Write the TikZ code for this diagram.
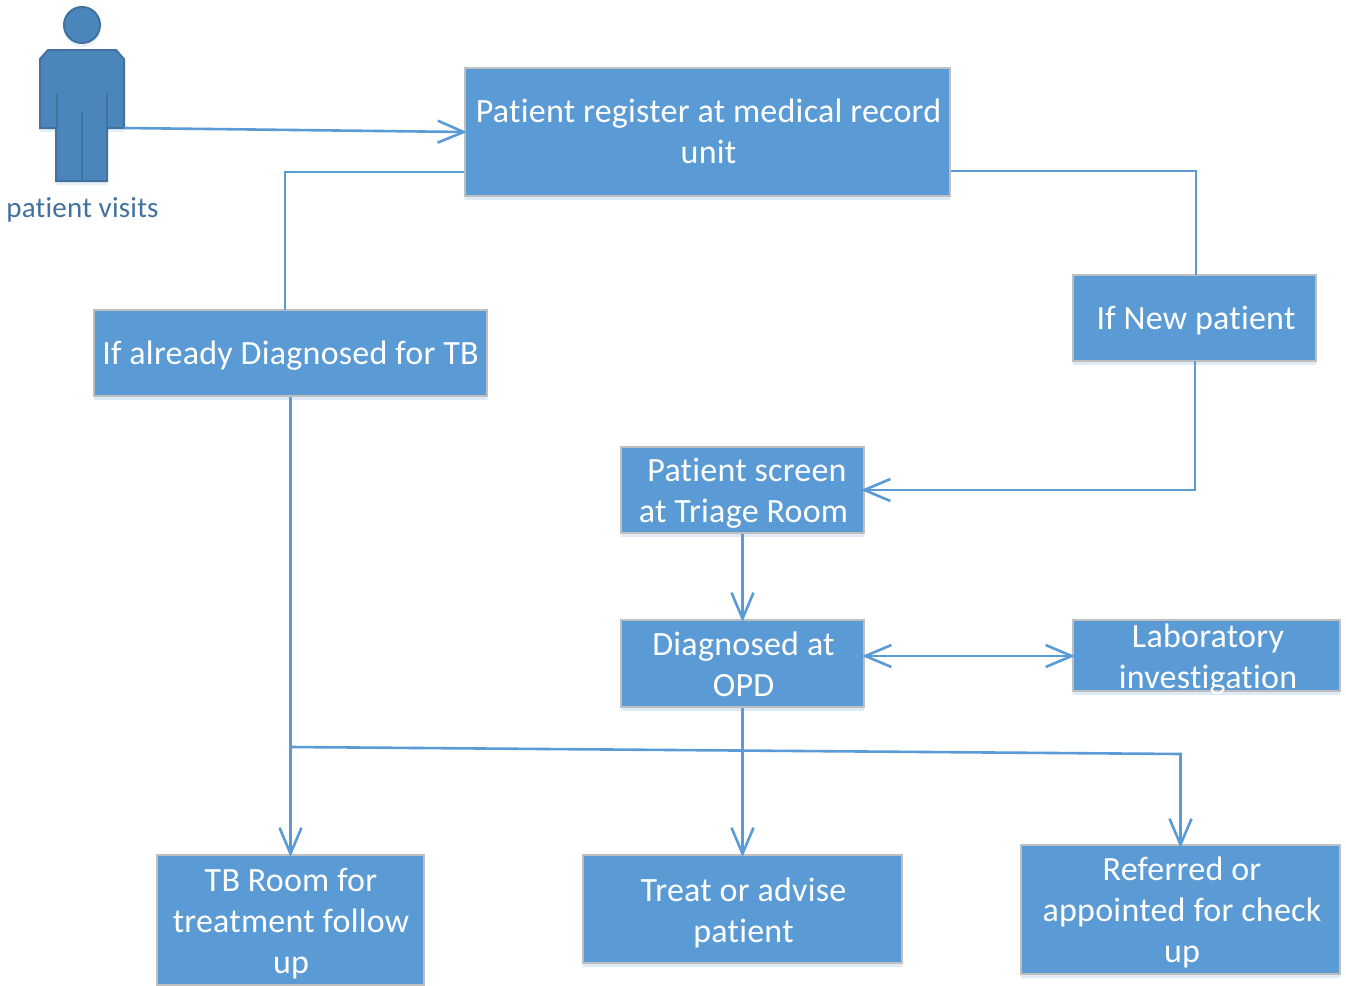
\documentclass[tikz,border=0pt]{standalone}
\usepackage{fontspec}
\setmainfont{Carlito}[LetterSpace=0.7,RawFeature={-liga}]
\usetikzlibrary{arrows.meta,shadows}
\definecolor{boxfill}{HTML}{5B9BD5}
\definecolor{boxedge}{HTML}{BFBFBF}
\definecolor{persfill}{HTML}{4A86BC}
\definecolor{persedge}{HTML}{41719C}
\tikzset{
  flowtext/.style={text=white,align=center,inner sep=0pt,font=\fontsize{34}{41}\selectfont},
  flowbox/.style={flowtext,draw=boxedge,line width=2pt,fill=boxfill,
    execute at begin node={\rule{0pt}{30pt}},
    execute at end node={\rule[-8pt]{0pt}{8pt}},
    drop shadow={shadow xshift=0pt,shadow yshift=-4pt,opacity=.2,fill=boxfill}},
  link/.style={draw=boxfill,line width=2.6pt},
  tip/.style={shorten >=-3pt,-{Straight Barb[length=26pt,width=22pt,line width=2.6pt]}},
  bothtip/.style={shorten >=-3pt,shorten <=-3pt,{Straight Barb[length=26pt,width=22pt,line width=2.6pt]}-{Straight Barb[length=26pt,width=22pt,line width=2.6pt]}},
  persshape/.style={draw=persedge,line width=2pt,fill=persfill,
    drop shadow={shadow xshift=0pt,shadow yshift=-4pt,opacity=.15,fill=boxfill}},
  persline/.style={draw=persedge,line width=2pt},
}
\begin{document}
\begin{tikzpicture}[x=1pt,y=-1pt]
\path[use as bounding box] (0,0) rectangle (1346,985);
% person
\path[persshape] (48,50) -- (116,50) -- (124,59) -- (124,128) -- (107,128) -- (107,181) -- (56,181) -- (56,128) -- (40,128) -- (40,59) -- cycle;
\path[persshape] (82,25) circle[radius=18pt];
\draw[persline] (56.5,94) -- (56.5,128);
\draw[persline] (107,94) -- (107,128);
\draw[persline] (82,111) -- (82,181);
\node[text=persedge,font=\fontsize{29}{32}\selectfont,inner sep=0pt] (plabel) at (82.5,210) {patient visits};
\coordinate (hand) at (124,128);
% boxes
\node[flowbox,minimum width=485pt,minimum height=128pt] (reg) at (707.5,132) {};
\node[flowtext] (regtext) at (708.5,131) {Patient register at medical record\\unit};
\node[flowbox,minimum width=393pt,minimum height=86pt] (old) at (290.5,353) {If already Diagnosed for TB};
\node[flowbox,minimum width=243pt,minimum height=86pt] (new) at (1194.5,318) {\hspace{3pt}If New patient};
\node[flowbox,minimum width=243pt,minimum height=86pt] (screen) at (742.5,490) {};
\node[flowtext] (screentext) at (743.5,493) {\hspace{7pt}Patient screen\\at Triage Room};
\node[flowbox,minimum width=243pt,minimum height=87pt] (opd) at (742.5,663.5) {};
\node[flowtext] (opdtext) at (743.5,664.5) {Diagnosed at\\OPD};
\node[flowbox,minimum width=267pt,minimum height=71pt] (lab) at (1206.5,655.5) {};
\node[flowtext] (labtext) at (1208,659.5) {Laboratory\\investigation};
\node[flowbox,minimum width=267pt,minimum height=130pt] (tb) at (290.5,920) {};
\node[flowtext] (tbtext) at (291,924) {TB Room for\\treatment follow\\up};
\node[flowbox,minimum width=319pt,minimum height=108pt] (treat) at (742.5,909) {};
\node[flowtext] (treattext) at (743.5,913) {Treat or advise\\patient};
\node[flowbox,minimum width=319pt,minimum height=129pt] (ref) at (1180.5,909.5) {};
\node[flowtext] (reftext) at (1182,912.5) {Referred or\\appointed for check\\up};
% connector anchors
\coordinate (regL) at (reg.west |- 0,172);
\coordinate (regR) at (reg.east |- 0,171);
\coordinate (oldT) at (285,310);
\coordinate (newT) at (1196,275);
\coordinate (newB) at (1195,361);
\coordinate (screenE) at (864,490);
\coordinate (branch) at (290.5,747);
\coordinate (refT) at (1180.5,845);
% connectors
\draw[link,tip] (hand) -- (reg.west);
\draw[link] (regL) -- (285,172) -- (oldT);
\draw[link] (regR) -- (1196,171) -- (newT);
\draw[link,tip] (newB) -- (1195,490) -- (screenE);
\draw[link,tip] (screen.south) -- (opd.north);
\draw[link,bothtip] (opd.east |- 0,656) -- (lab.west |- 0,656);
\draw[link,tip] (old.south) -- (tb.north);
\draw[link,tip] (opd.south) -- (treat.north);
\draw[link,tip] (branch) -- (1180.5,754) -- (refT);
\end{tikzpicture}
\end{document}
